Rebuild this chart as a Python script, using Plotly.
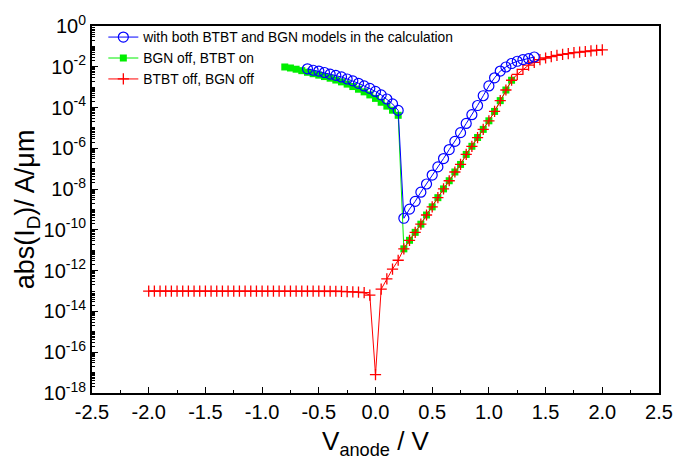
import plotly.graph_objects as go

# ---- data (log10 of |I_D| in A/um) ----
# both BTBT and BGN models
v_both = [-0.60, -0.55, -0.50, -0.45, -0.40, -0.35, -0.30, -0.25, -0.20, -0.15,
          -0.10, -0.05, 0.00, 0.05, 0.10, 0.15, 0.20,
          0.25, 0.30, 0.35, 0.40, 0.45, 0.50, 0.55, 0.60, 0.65, 0.70, 0.75,
          0.80, 0.85, 0.90, 0.95, 1.00, 1.05, 1.10, 1.15, 1.20, 1.25, 1.30,
          1.35, 1.40]
log_both = [-2.10, -2.17, -2.21, -2.28, -2.36, -2.42, -2.50, -2.60, -2.69, -2.81,
            -2.94, -3.06, -3.21, -3.38, -3.58, -3.82, -4.14,
            -9.43, -8.98, -8.60, -8.15, -7.75, -7.31, -6.91, -6.50, -6.06, -5.66,
            -5.23, -4.78, -4.35, -3.90, -3.42, -2.94, -2.54, -2.21, -2.01, -1.84,
            -1.73, -1.65, -1.60, -1.52]

# BGN off, BTBT on
v_bgn_off = [-0.80, -0.75, -0.70, -0.65, -0.60, -0.55, -0.50, -0.45, -0.40, -0.35,
             -0.30, -0.25, -0.20, -0.15, -0.10, -0.05, 0.00, 0.05, 0.10, 0.15, 0.20,
             0.25, 0.30, 0.35, 0.40, 0.45, 0.50, 0.55, 0.60, 0.65, 0.70, 0.75,
             0.80, 0.85, 0.90, 0.95, 1.00, 1.05, 1.10, 1.15, 1.20]
log_bgn_off = [-2.01, -2.06, -2.12, -2.19, -2.27, -2.34, -2.41, -2.48, -2.56, -2.65,
               -2.74, -2.85, -2.97, -3.10, -3.23, -3.38, -3.55, -3.74, -3.93, -4.13, -4.38,
               -10.93, -10.51, -10.12, -9.72, -9.27, -8.87, -8.42, -7.99, -7.59, -7.16,
               -6.79, -6.30, -5.90, -5.47, -5.07, -4.65, -4.19, -3.66, -3.14, -2.66]

# BTBT off, BGN off
v_all_off = [-2.00, -1.95, -1.90, -1.85, -1.80, -1.75, -1.70, -1.65, -1.60, -1.55,
             -1.50, -1.45, -1.40, -1.35, -1.30, -1.25, -1.20, -1.15, -1.10, -1.05,
             -1.00, -0.95, -0.90, -0.85, -0.80, -0.75, -0.70, -0.65, -0.60, -0.55,
             -0.50, -0.45, -0.40, -0.35, -0.30, -0.25, -0.20, -0.15, -0.10, -0.05,
             0.00, 0.05, 0.10, 0.15, 0.20, 0.25, 0.30, 0.35, 0.40, 0.45,
             0.50, 0.55, 0.60, 0.65, 0.70, 0.75, 0.80, 0.85, 0.90, 0.95,
             1.00, 1.05, 1.10, 1.15, 1.20, 1.25, 1.30, 1.35, 1.40, 1.45,
             1.50, 1.55, 1.60, 1.65, 1.70, 1.75, 1.80, 1.85, 1.90, 1.95, 2.00]
log_all_off = [-13.0, -13.0, -13.0, -13.0, -13.0, -13.0, -13.0, -13.0, -13.0, -13.0,
               -13.0, -13.0, -13.0, -13.0, -13.0, -13.0, -13.0, -13.0, -13.0, -13.0,
               -13.0, -13.0, -13.0, -13.0, -13.0, -13.0, -13.0, -13.0, -13.0, -13.0,
               -13.0, -13.0, -13.01, -13.01, -13.02, -13.03, -13.04, -13.05, -13.08, -13.2,
               -17.1, -12.91, -12.40, -11.92, -11.49, -10.93, -10.51, -10.12, -9.72, -9.27,
               -8.87, -8.42, -7.99, -7.59, -7.16, -6.79, -6.30, -5.90, -5.47, -5.07,
               -4.65, -4.19, -3.66, -3.14, -2.66, -2.37, -2.13, -1.92, -1.78, -1.65,
               -1.57, -1.50, -1.44, -1.39, -1.35, -1.31, -1.28, -1.25, -1.22, -1.19, -1.17]

y_tick_exps = [0, -2, -4, -6, -8, -10, -12, -14, -16, -18]
x_ticks = [-2.5, -2.0, -1.5, -1.0, -0.5, 0.0, 0.5, 1.0, 1.5, 2.0, 2.5]


def to_amps(logs):
    return [10 ** v for v in logs]


fig = go.Figure()

fig.add_trace(go.Scatter(
    x=v_bgn_off, y=to_amps(log_bgn_off), mode="lines+markers",
    name="BGN off, BTBT on", legendrank=2,
    line=dict(color="#00ee00", width=1),
    marker=dict(symbol="square", size=7, color="#00ee00"),
))
fig.add_trace(go.Scatter(
    x=v_all_off, y=to_amps(log_all_off), mode="lines+markers",
    name="BTBT off, BGN off", legendrank=3,
    line=dict(color="#ff0000", width=1),
    marker=dict(symbol="cross-thin-open", size=8,
                line=dict(color="#ff0000", width=1.3)),
))
fig.add_trace(go.Scatter(
    x=v_both, y=to_amps(log_both), mode="lines+markers",
    name="with both BTBT and BGN models in the calculation", legendrank=1,
    line=dict(color="#0000ff", width=1),
    marker=dict(symbol="circle-open", size=10,
                line=dict(color="#0000ff", width=1.2)),
))

# minor ticks for every digit in each decade
minor_vals = [k * 10.0 ** e for e in range(-18, 0) for k in range(2, 10)]
odd_decades = [10.0 ** e for e in range(-17, 0, 2)]

fig.update_layout(
    width=685, height=468,
    margin=dict(l=92, r=16, t=19, b=75),
    paper_bgcolor="white", plot_bgcolor="white",
    font=dict(family="Liberation Sans, Arial, sans-serif", color="black"),
    showlegend=True,
    legend=dict(x=0.02, y=1.012, xanchor="left", yanchor="top",
                bgcolor="rgba(0,0,0,0)", font=dict(size=13.8),
                tracegroupgap=0, itemwidth=30),
    xaxis=dict(
        range=[-2.5, 2.5], tickvals=x_ticks,
        ticktext=[f"{v:.1f}" for v in x_ticks],
        ticks="inside", ticklen=6, tickwidth=1.2, tickcolor="black",
        minor=dict(ticks="inside", ticklen=3, dtick=0.25, tick0=-2.5,
                   tickcolor="black", tickwidth=1.2),
        showline=True, linecolor="black", linewidth=2, mirror=True,
        showgrid=False, zeroline=False,
        tickfont=dict(size=20),
        title=dict(text="V<sub>anode</sub> / V", font=dict(size=26), standoff=10),
    ),
    yaxis=dict(
        type="log", range=[-18, 0],
        tickvals=[10.0 ** e for e in y_tick_exps],
        ticktext=[f"10<sup>{e}</sup>" for e in y_tick_exps],
        ticks="inside", ticklen=6, tickwidth=1.2, tickcolor="black",
        minor=dict(ticks="inside", ticklen=3, tickvals=minor_vals + odd_decades,
                   tickcolor="black", tickwidth=1),
        showline=True, linecolor="black", linewidth=2, mirror=True,
        showgrid=False, zeroline=False,
        tickfont=dict(size=20),
        title=dict(text="abs(I<sub>D</sub>)/ A/\u03bcm", font=dict(size=27), standoff=0),
    ),
)

fig.write_html("out.html")
